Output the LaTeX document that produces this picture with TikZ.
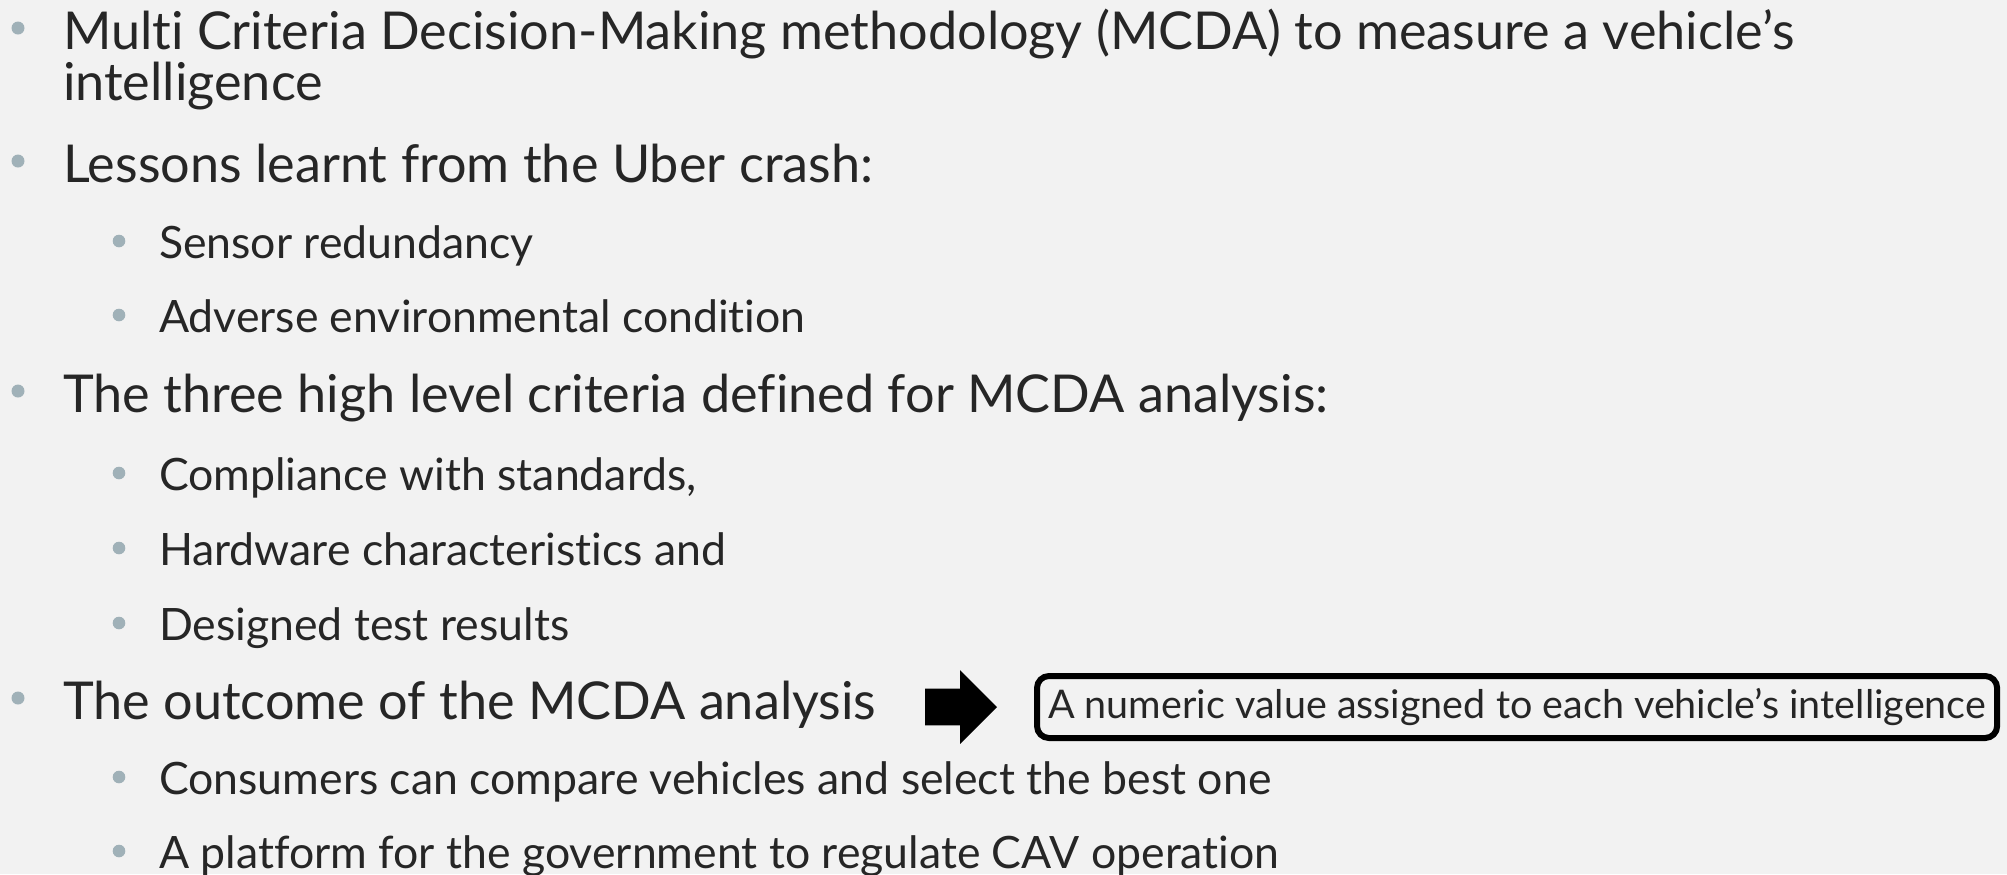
\documentclass[tikz,border=0pt]{standalone}
\usepackage{fontspec}
\setmainfont{Lato}[RawFeature=-liga]
\usetikzlibrary{positioning,shapes.arrows}
\definecolor{slidebg}{HTML}{F2F2F2}
\definecolor{slidetext}{HTML}{262626}
\definecolor{dotgray}{HTML}{A0B1B8}

\begin{document}
\begin{tikzpicture}[
    x=0.5pt, y=-0.5pt,
    every node/.style={inner sep=0pt, outer sep=0pt, text=slidetext},
    % first level lines
    lvlone/.style={anchor=base west, font=\fontsize{26.1}{31}\selectfont},
    % second level lines
    lvltwo/.style={anchor=base west, font=\fontsize{22.3}{27}\selectfont},
    dotone/.style={circle, fill=dotgray, minimum size=6.5pt},
    dottwo/.style={circle, fill=dotgray, minimum size=6.3pt},
    bigarrow/.style={single arrow, fill=black, inner ysep=9pt, inner xsep=0pt,
      single arrow head extend=9.25pt, minimum height=36pt, minimum width=0pt},
    resultbox/.style={draw=black, line width=3pt, rounded corners=6pt, fill=slidebg,
      inner xsep=5.5pt, minimum height=31pt, font=\fontsize{19.75}{23}\selectfont},
  ]
  \fill[slidebg] (0,0) rectangle (2007,874);
  \useasboundingbox (0,0) rectangle (2007,874);

  \node[lvlone] (mcda) at (63,49) {Multi Criteria Decision-Making methodology (MCDA) to measure a vehicle’s};
  \node[lvlone] (mcdab) at (63,100) {intelligence};
  \node[lvlone] (uber) at (63,182) {Lessons learnt from the Uber crash:};
  \node[lvltwo] (sens) at (159,258) {Sensor redundancy};
  \node[lvltwo] (envc) at (159,332) {Adverse environmental condition};
  \node[lvlone] (crit) at (63,412) {The three high level criteria defined for MCDA analysis:};
  \node[lvltwo] (stds) at (159,490) {Compliance with standards,};
  \node[lvltwo] (hard) at (159,565) {Hardware characteristics and};
  \node[lvltwo] (test) at (159,640) {Designed test results};
  \node[lvlone] (outc) at (63,719) {The outcome of the MCDA analysis};
  \node[lvltwo] (cons) at (159,794) {Consumers can compare vehicles and select the best one};
  \node[lvltwo] (govt) at (159,868) {A platform for the government to regulate CAV operation};

  % bullets
  \foreach \n in {mcda,uber,crit,outc}
    \node[dotone] (dot-\n) at ([shift={(-45,-21)}]\n.base west) {};
  \foreach \n in {sens,envc,stds,hard,test,cons,govt}
    \node[dottwo] (dot-\n) at ([shift={(-40,-17)}]\n.base west) {};

  \node[bigarrow, anchor=tail] (arr) at (925,707) {};
  \node[resultbox, right=20pt of arr.tip] (res) {A numeric value assigned to each vehicle’s intelligence};
\end{tikzpicture}
\end{document}
